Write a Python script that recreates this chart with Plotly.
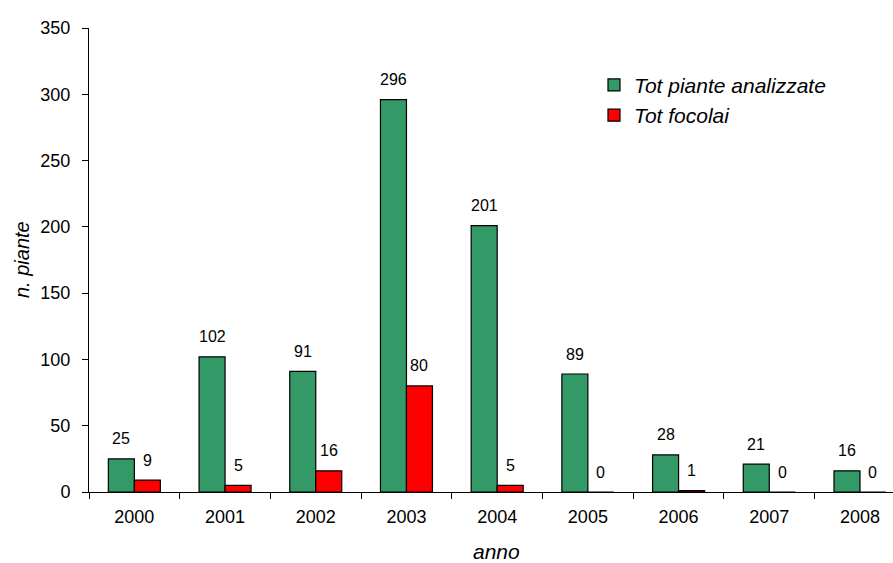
import plotly.graph_objects as go

# Yearly counts
anni = ["2000", "2001", "2002", "2003", "2004", "2005", "2006", "2007", "2008"]
piante_analizzate = [25, 102, 91, 296, 201, 89, 28, 21, 16]
focolai = [9, 5, 16, 80, 5, 0, 1, 0, 0]
y_ticks = [0, 50, 100, 150, 200, 250, 300, 350]

VERDE = "#339966"
ROSSO = "#FF0000"
FONT = "Arial, 'Liberation Sans', sans-serif"

fig = go.Figure()
fig.add_trace(go.Bar(
    x=anni, y=piante_analizzate, name="Tot piante analizzate",
    marker=dict(color=VERDE, line=dict(color="black", width=1.2)),
))
fig.add_trace(go.Bar(
    x=anni, y=focolai, name="Tot focolai",
    marker=dict(color=ROSSO, line=dict(color="black", width=1.2)),
))

# value labels above each bar
annotations = []
bar_px = 26
for i, anno in enumerate(anni):
    for vals, shift in ((piante_analizzate, -bar_px / 2), (focolai, bar_px / 2)):
        annotations.append(dict(
            x=i, y=vals[i], xref="x", yref="y", text=str(vals[i]),
            showarrow=False, xshift=shift, yshift=20, yanchor="middle",
            font=dict(family=FONT, size=16, color="black"),
        ))

# axis titles
annotations.append(dict(
    x=0.507, y=-0.128, xref="paper", yref="paper", text="anno",
    showarrow=False, xanchor="center", yanchor="middle",
    font=dict(family=FONT, size=21, color="black", style="italic"),
))
annotations.append(dict(
    x=(22 - 89) / 804, y=0.5, xref="paper", yref="paper", text="n. piante",
    showarrow=False, xanchor="center", yanchor="middle", textangle=-90,
    font=dict(family=FONT, size=20, color="black", style="italic"),
))

fig.update_layout(
    width=893, height=563,
    margin=dict(l=89, r=0, t=28, b=71, pad=0),
    paper_bgcolor="white", plot_bgcolor="white",
    barmode="group", bargap=0.4267, bargroupgap=0,
    font=dict(family=FONT, color="black"),
    showlegend=True,
    legend=dict(
        x=0.6281, y=0.9208, xanchor="left", yanchor="top",
        bgcolor="rgba(0,0,0,0)", borderwidth=0,
        font=dict(family=FONT, size=21, color="black", style="italic"),
    ),
    annotations=annotations,
)
fig.update_xaxes(
    type="category", range=[-0.5, 8.364],
    showline=True, linecolor="black", linewidth=1,
    ticks="outside", tickson="boundaries", ticklen=6, tickcolor="black",
    tickfont=dict(family=FONT, size=18, color="black"),
    ticklabelstandoff=8,
    showgrid=False, zeroline=False,
)
fig.update_yaxes(
    range=[0, 350], tickvals=y_ticks,
    showline=True, linecolor="black", linewidth=1,
    ticks="outside", ticklen=6, tickcolor="black",
    tickfont=dict(family=FONT, size=18, color="black"),
    ticklabelstandoff=8,
    showgrid=False, zeroline=False,
)

fig.write_html("out.html")
